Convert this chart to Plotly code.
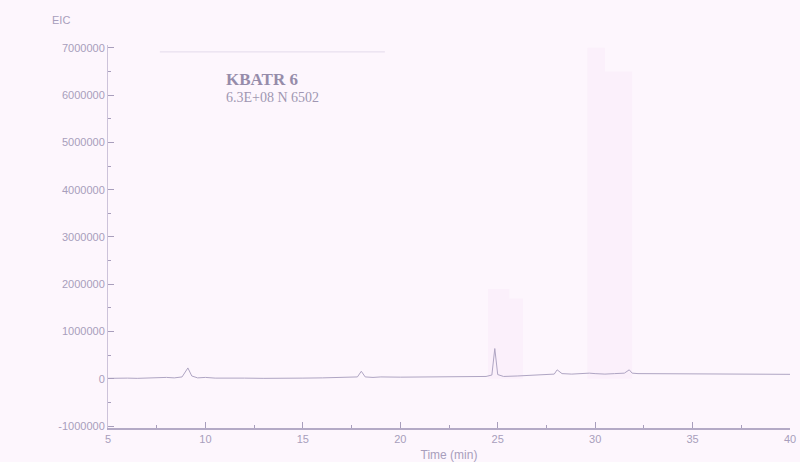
import plotly.graph_objects as go

# ---- data ----
time_min = [5.0, 5.5, 6.0, 6.5, 7.0, 7.5, 8.0, 8.4, 8.8, 9.1, 9.3, 9.6, 10.0, 10.5, 11.0, 12.0, 13.0,
            14.0, 15.0, 16.0, 17.0, 17.8, 18.0, 18.2, 18.6, 19.0, 20.0, 21.0, 22.0, 23.0, 23.8,
            24.4, 24.7, 24.85, 25.0, 25.3, 26.0, 26.8, 27.5, 27.9, 28.05, 28.3, 28.8, 29.3, 29.7,
            30.0, 30.5, 31.0, 31.5, 31.75, 31.9, 32.2, 33.0, 34.0, 35.0, 36.0, 37.0, 38.0, 39.0, 40.0]
intensity = [10000, 20000, 15000, 10000, 20000, 15000, 30000, 20000, 40000, 230000, 60000, 20000,
             30000, 15000, 20000, 15000, 10000, 20000, 15000, 20000, 25000, 40000, 160000, 40000,
             30000, 40000, 35000, 40000, 30000, 45000, 40000, 50000, 80000, 640000, 90000, 50000,
             60000, 70000, 80000, 100000, 190000, 110000, 100000, 110000, 120000, 110000, 100000,
             110000, 120000, 190000, 120000, 110000, 110000, 100000, 110000, 100000, 105000, 100000,
             100000, 95000]

ghost_a_time = [24.5, 24.5, 25.6, 25.6, 26.3, 26.3]
ghost_a_val = [0, 1900000, 1900000, 1700000, 1700000, 0]
ghost_b_time = [29.6, 29.6, 30.5, 30.5, 31.9, 31.9]
ghost_b_val = [0, 7000000, 7000000, 6500000, 6500000, 0]

y_tick_vals = [-1000000, 0, 1000000, 2000000, 3000000, 4000000, 5000000, 6000000, 7000000]
y_tick_text = ["-1000000", "0", "1000000", "2000000", "3000000", "4000000", "5000000", "6000000", "7000000"]
x_tick_vals = [5, 10, 15, 20, 25, 30, 35, 40]
x_tick_text = ["5", "10", "15", "20", "25", "30", "35", "40"]

trace_label = "KBATR 6"
trace_sub = "6.3E+08 N 6502"

bg = "rgb(253,246,253)"
ink = "rgb(168,158,188)"
line_col = "rgb(175,165,195)"
ghost_col = "rgb(251,240,251)"

fig = go.Figure()
fig.add_trace(go.Scatter(x=ghost_a_time, y=ghost_a_val, fill="toself", fillcolor=ghost_col,
                         mode="lines", line=dict(width=0), hoverinfo="skip", showlegend=False))
fig.add_trace(go.Scatter(x=ghost_b_time, y=ghost_b_val, fill="toself", fillcolor=ghost_col,
                         mode="lines", line=dict(width=0), hoverinfo="skip", showlegend=False))
fig.add_trace(go.Scatter(x=time_min, y=intensity, mode="lines",
                         line=dict(color=line_col, width=1), showlegend=False, name=trace_label))

fig.update_layout(
    width=800, height=462,
    margin=dict(l=108, r=10, t=45, b=34, autoexpand=False),
    paper_bgcolor=bg, plot_bgcolor=bg,
    font=dict(family="Liberation Sans, Arial", size=11, color=ink),
    xaxis=dict(range=[5, 40], tickvals=x_tick_vals, ticktext=x_tick_text, automargin=False,
               ticks="inside", ticklen=6, tickcolor=ink, showgrid=False, zeroline=False,
               showline=True, linecolor="rgb(180,170,198)", linewidth=2,
               minor=dict(dtick=2.5, ticks="inside", ticklen=3, tickcolor=ink),
               title=dict(text="Time (min)", standoff=6, font=dict(size=12, color=ink))),
    yaxis=dict(range=[-1040000, 7060000], tickvals=y_tick_vals, ticktext=y_tick_text, automargin=False,
               ticks="inside", ticklen=6, tickcolor=ink, showgrid=False, zeroline=False,
               showline=True, linecolor="rgb(205,195,218)", linewidth=1,
               minor=dict(dtick=500000, ticks="inside", ticklen=3, tickcolor=ink)),
    annotations=[
        dict(text="EIC", xref="paper", yref="paper", x=-0.085, y=1.085, showarrow=False,
             xanchor="left", font=dict(size=11, color=ink)),
        dict(text="<b>" + trace_label + "</b>", xref="paper", yref="paper", x=0.17, y=0.94,
             showarrow=False, xanchor="left",
             font=dict(family="Liberation Serif, Times New Roman", size=17, color="rgb(150,140,170)")),
        dict(text=trace_sub, xref="paper", yref="paper", x=0.17, y=0.888, showarrow=False,
             xanchor="left", font=dict(family="Liberation Serif, Times New Roman", size=14, color="rgb(160,150,178)")),
    ],
    shapes=[dict(type="line", xref="paper", yref="paper", x0=0.076, x1=0.406, y0=0.982, y1=0.982,
                 line=dict(color="rgb(228,218,235)", width=1))],
)

fig.write_html("out.html", config={"displayModeBar": False},
               post_script="document.body.style.margin='0';document.body.style.background='%s';" % bg)
